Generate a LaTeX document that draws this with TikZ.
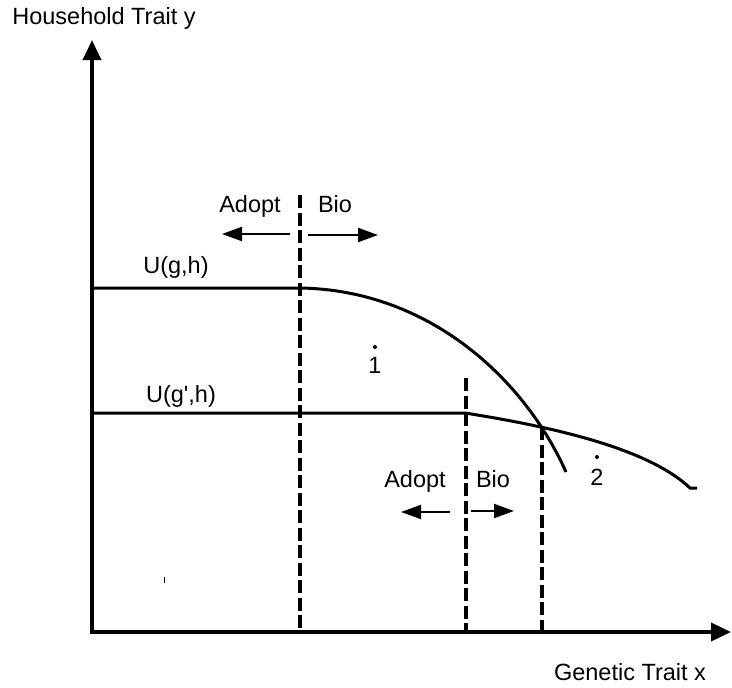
\documentclass[tikz,border=0pt]{standalone}
\usepackage{fontspec}
\setmainfont{Liberation Sans}
\usetikzlibrary{arrows.meta}

\begin{document}
\begin{tikzpicture}[
    x=1pt, y=-1pt,
    every node/.style={font=\fontsize{23.5}{27}\selectfont, inner sep=0pt, anchor=base},
    axis/.style={line width=3.5pt, -{Triangle[length=20pt,width=18pt]}},
    curve/.style={line width=3pt},
    divider/.style={line width=3.5pt, dash pattern=on 13pt off 4.5pt},
    arrow/.style={line width=2pt, -{Triangle[length=20pt,width=14pt]}},
    pt/.style={fill=black, circle, minimum size=4pt, inner sep=0pt, anchor=center}
  ]
    \useasboundingbox (0,0) rectangle (732,688);

    % Axes
    \coordinate (origin) at (92,632);
    \coordinate (ytip)   at (92,40);
    \coordinate (xtip)   at (731,632);
    \draw[axis] (origin) -- (ytip);
    \draw[axis] ([xshift=-1.75pt]origin) -- (xtip);
    \node (ylabel) at (104,24)  {Household Trait y};
    \node (xlabel) at (630,680) {Genetic Trait x};

    % Utility curves
    \draw[curve] (92,288) -- (300,288)
        .. controls (430,290) and (525,380) .. (566,472);
    \draw[curve] (92,413) -- (465,413)
        .. controls (560,428) and (650,450) .. (690,488) -- (697,488);
    \node (ugh)  at (176,273) {U(g,h)};
    \node (ugph) at (181,402) {U(g\textquotesingle,h)};

    % Cut-offs
    \draw[divider] (300,195) -- (300,632);
    \draw[divider] (466,378) -- (466,632);
    \draw[divider] (542,427) -- (542,632);

    % Adopt / Bio, upper
    \node (adoptA) at (250,212) {Adopt};
    \node (bioA)   at (335,212) {Bio};
    \coordinate (adoptAs) at (290,234);
    \coordinate (adoptAe) at (222,234);
    \coordinate (bioAs)   at (308,235);
    \coordinate (bioAe)   at (378,235);
    \draw[arrow] (adoptAs) -- (adoptAe);
    \draw[arrow] (bioAs) -- (bioAe);

    % Adopt / Bio, lower
    \node (adoptB) at (415,487) {Adopt};
    \node (bioB)   at (493,487) {Bio};
    \coordinate (adoptBs) at (450,512);
    \coordinate (adoptBe) at (401,512);
    \coordinate (bioBs)   at (471,511);
    \coordinate (bioBe)   at (514,511);
    \draw[arrow] (adoptBs) -- (adoptBe);
    \draw[arrow] (bioBs) -- (bioBe);

    % Households 1 and 2
    \node[pt] (dotone) at (375,347) {};
    \node (one) at (375,373) {1};
    \node[pt] (dottwo) at (597,457) {};
    \node (two) at (597,485) {2};

    % stray tick
    \draw[line width=1pt] (164,577) -- (164,583);
\end{tikzpicture}
\end{document}
